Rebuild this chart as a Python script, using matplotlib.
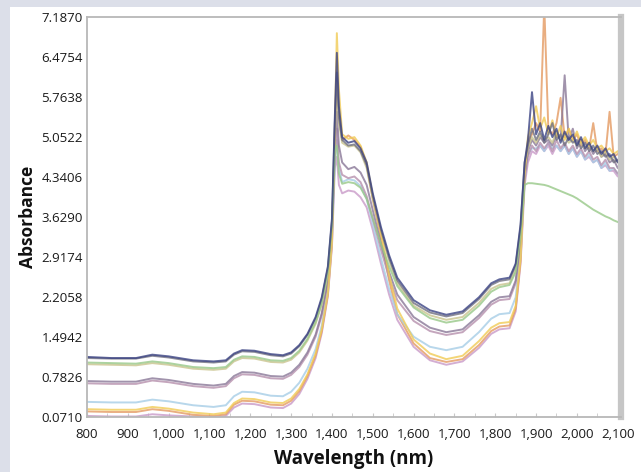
import numpy as np, matplotlib
matplotlib.use('Agg')
import matplotlib.pyplot as plt
from matplotlib.patches import Rectangle

plt.rcParams.update({'font.family': 'Open Sans', 'font.size': 9.5})

# wavelength grid of the smooth part (nm)
wl_body = [800, 860, 920, 960, 1000, 1060, 1110, 1140, 1160, 1180, 1210, 1250, 1280,
           1300, 1320, 1340, 1360, 1375, 1390, 1400, 1407,
           1412, 1417, 1425, 1440, 1455, 1470,
           1485, 1500, 1520, 1540, 1560, 1600, 1640, 1680, 1720, 1760, 1790, 1810, 1835, 1850, 1862, 1872]
# wavelength grid of the noisy tail (nm)
wl_tail = [1880, 1890, 1900, 1910, 1920, 1930, 1940, 1950, 1960, 1970, 1980, 1990,
           2000, 2010, 2020, 2030, 2040, 2050, 2060, 2070, 2080, 2090, 2100, 2108]

navy_body = [1.14, 1.12, 1.12, 1.18, 1.15, 1.08, 1.06, 1.08, 1.20, 1.26, 1.25, 1.19, 1.17,
             1.22, 1.35, 1.55, 1.85, 2.20, 2.75, 3.60, 5.40,
             6.55, 5.60, 5.05, 4.95, 4.98, 4.85,
             4.60, 4.05, 3.45, 2.95, 2.55, 2.15, 1.97, 1.89, 1.95, 2.20, 2.45, 2.52, 2.55, 2.80, 3.50, 4.60]
gray_body = [1.12, 1.11, 1.11, 1.16, 1.13, 1.06, 1.04, 1.06, 1.18, 1.24, 1.23, 1.17, 1.15,
             1.20, 1.33, 1.53, 1.82, 2.17, 2.72, 3.55, 5.30,
             6.20, 5.40, 5.00, 4.90, 4.92, 4.80,
             4.55, 4.00, 3.40, 2.90, 2.50, 2.10, 1.93, 1.86, 1.92, 2.17, 2.42, 2.49, 2.52, 2.77, 3.45, 4.60]
green_body = [1.04, 1.03, 1.02, 1.06, 1.03, 0.96, 0.94, 0.96, 1.09, 1.15, 1.14, 1.08, 1.07,
              1.12, 1.25, 1.46, 1.76, 2.10, 2.66, 3.50, 4.80,
              4.90, 4.40, 4.22, 4.25, 4.23, 4.15,
              3.95, 3.60, 3.15, 2.75, 2.40, 2.02, 1.83, 1.75, 1.80, 2.05, 2.30, 2.38, 2.42, 2.65, 3.30, 4.20]
khaki_body = [1.01, 1.00, 0.99, 1.03, 1.00, 0.93, 0.91, 0.93, 1.06, 1.12, 1.11, 1.05, 1.04,
              1.09, 1.22, 1.43, 1.73, 2.07, 2.63, 3.45, 5.00,
              6.00, 5.30, 4.95, 4.88, 4.90, 4.78,
              4.50, 3.95, 3.35, 2.85, 2.45, 2.05, 1.88, 1.80, 1.85, 2.10, 2.35, 2.42, 2.45, 2.70, 3.40, 4.50]
purple_body = [0.71, 0.70, 0.70, 0.76, 0.73, 0.66, 0.63, 0.66, 0.80, 0.87, 0.86, 0.80, 0.79,
               0.86, 1.00, 1.22, 1.54, 1.92, 2.50, 3.40, 4.90,
               5.50, 4.90, 4.60, 4.48, 4.52, 4.42,
               4.20, 3.75, 3.15, 2.65, 2.25, 1.85, 1.66, 1.58, 1.63, 1.88, 2.12, 2.20, 2.22, 2.50, 3.20, 4.40]
mauve_body = [0.67, 0.66, 0.66, 0.72, 0.69, 0.62, 0.59, 0.62, 0.76, 0.83, 0.82, 0.76, 0.75,
              0.82, 0.96, 1.18, 1.50, 1.88, 2.47, 3.35, 4.70,
              5.20, 4.60, 4.38, 4.32, 4.35, 4.25,
              4.00, 3.60, 3.05, 2.55, 2.15, 1.78, 1.60, 1.53, 1.58, 1.83, 2.07, 2.15, 2.17, 2.45, 3.15, 4.30]
blue_body = [0.34, 0.33, 0.33, 0.38, 0.35, 0.28, 0.25, 0.28, 0.44, 0.52, 0.51, 0.45, 0.44,
             0.52, 0.68, 0.93, 1.28, 1.70, 2.33, 3.25, 4.60,
             5.00, 4.50, 4.25, 4.30, 4.28, 4.18,
             3.95, 3.50, 2.90, 2.35, 1.90, 1.50, 1.32, 1.26, 1.32, 1.58, 1.82, 1.90, 1.92, 2.20, 3.00, 4.30]
yellow_body = [0.21, 0.20, 0.20, 0.25, 0.22, 0.15, 0.12, 0.15, 0.32, 0.40, 0.39, 0.33, 0.32,
               0.40, 0.57, 0.83, 1.20, 1.63, 2.28, 3.20, 5.20,
               6.90, 5.90, 5.10, 5.02, 5.05, 4.90,
               4.60, 4.00, 3.35, 2.60, 2.00, 1.45, 1.20, 1.10, 1.16, 1.42, 1.66, 1.74, 1.76, 2.05, 2.90, 4.40]
orange_body = [0.17, 0.16, 0.16, 0.21, 0.18, 0.11, 0.09, 0.12, 0.29, 0.36, 0.35, 0.29, 0.28,
               0.36, 0.53, 0.80, 1.17, 1.60, 2.25, 3.15, 5.00,
               6.10, 5.50, 5.00, 5.08, 5.00, 4.88,
               4.55, 3.95, 3.25, 2.50, 1.90, 1.38, 1.12, 1.05, 1.10, 1.35, 1.60, 1.68, 1.70, 2.00, 2.85, 4.40]
pink_body = [0.09, 0.08, 0.08, 0.12, 0.10, 0.08, 0.07, 0.09, 0.24, 0.31, 0.30, 0.24, 0.23,
             0.31, 0.48, 0.75, 1.12, 1.56, 2.22, 3.10, 4.50,
             4.70, 4.20, 4.05, 4.10, 4.08, 3.98,
             3.80, 3.40, 2.80, 2.25, 1.80, 1.32, 1.08, 1.00, 1.06, 1.30, 1.55, 1.63, 1.65, 1.95, 2.80, 4.20]

navy_tail = [5.00, 5.85, 5.10, 5.30, 5.00, 5.25, 5.05, 5.20, 4.95, 5.15, 5.00, 5.10,
             4.90, 5.05, 4.85, 4.95, 4.80, 4.90, 4.75, 4.85, 4.70, 4.75, 4.60, 4.65]
gray_tail = [4.90, 5.20, 5.00, 5.15, 4.95, 5.10, 5.30, 5.00, 5.10, 4.90, 5.05, 4.95,
             5.00, 4.85, 4.95, 4.80, 4.90, 4.75, 4.80, 4.70, 4.75, 4.60, 4.65, 4.55]
green_tail = [4.23, 4.23, 4.22, 4.21, 4.20, 4.18, 4.15, 4.12, 4.09, 4.06, 4.03, 4.00,
              3.96, 3.91, 3.86, 3.81, 3.76, 3.72, 3.68, 3.64, 3.61, 3.57, 3.54, 3.52]
khaki_tail = [4.85, 5.05, 4.95, 5.10, 5.00, 5.05, 4.95, 5.15, 5.00, 5.10, 4.95, 5.00,
              4.90, 4.95, 4.85, 4.90, 4.80, 4.85, 4.70, 4.80, 4.65, 4.70, 4.60, 4.60]
purple_tail = [4.80, 5.00, 4.90, 5.05, 4.95, 5.00, 4.90, 5.10, 5.00, 6.15, 5.00, 5.20,
               4.85, 5.00, 4.80, 4.90, 4.75, 4.85, 4.70, 4.75, 4.60, 4.65, 4.50, 4.55]
mauve_tail = [4.70, 4.90, 4.80, 4.95, 4.85, 4.95, 4.80, 5.00, 4.85, 4.95, 4.80, 4.90,
              4.75, 4.85, 4.70, 4.80, 4.65, 4.70, 4.55, 4.65, 4.50, 4.50, 4.40, 4.40]
blue_tail = [4.75, 4.85, 4.85, 4.90, 4.80, 4.95, 4.85, 4.90, 4.80, 4.90, 4.75, 4.85,
             4.70, 4.80, 4.65, 4.75, 4.60, 4.65, 4.50, 4.60, 4.45, 4.50, 4.40, 4.35]
yellow_tail = [5.05, 5.30, 5.60, 5.20, 5.40, 5.10, 5.35, 5.05, 5.25, 5.00, 5.20, 5.00,
               5.15, 4.95, 5.05, 4.90, 5.00, 4.85, 4.90, 4.80, 4.85, 4.75, 4.80, 4.70]
orange_tail = [4.95, 5.10, 5.30, 5.15, 7.40, 5.20, 5.10, 5.30, 5.75, 5.05, 5.20, 5.00,
               5.10, 4.90, 5.00, 4.85, 5.30, 4.80, 4.85, 4.75, 5.50, 4.70, 4.75, 4.70]
pink_tail = [4.60, 4.80, 4.75, 4.90, 4.80, 4.90, 4.75, 4.90, 4.80, 4.90, 4.75, 4.85,
             4.70, 4.80, 4.65, 4.70, 4.60, 4.65, 4.50, 4.55, 4.45, 4.45, 4.35, 4.35]

series = [  # drawn bottom-up
    (pink_body, pink_tail, '#c99ac8'),
    (orange_body, orange_tail, '#e49a62'),
    (blue_body, blue_tail, '#a6cde6'),
    (mauve_body, mauve_tail, '#b690ad'),
    (purple_body, purple_tail, '#8a7898'),
    (khaki_body, khaki_tail, '#c9c48e'),
    (yellow_body, yellow_tail, '#f1cb55'),
    (gray_body, gray_tail, '#707080'),
    (green_body, green_tail, '#98c888'),
    (navy_body, navy_tail, '#3b4383'),
]

y_ticks = [0.0710, 0.7826, 1.4942, 2.2058, 2.9174, 3.6290, 4.3406, 5.0522, 5.7638, 6.4754, 7.1870]
x_ticks = [800, 900, 1000, 1100, 1200, 1300, 1400, 1500, 1600, 1700, 1800, 1900, 2000, 2100]

fig = plt.figure(figsize=(6.41, 4.72), dpi=100, facecolor='#dcdfe9')
fig.patches.append(Rectangle((10/641, 0), 1, 1 - 7/472, transform=fig.transFigure,
                             facecolor='white', edgecolor='none', zorder=-5))
ax = fig.add_axes([87/641, 55/472, 534/641, 400/472])
ax.set_zorder(2)

for body, tail, c in series:
    ax.plot(wl_body + wl_tail, body + tail, color=c, lw=1.4, alpha=0.8, solid_joinstyle='round')

ax.set_xlim(800, 2108)
ax.set_ylim(0.071, 7.187)
ax.set_yticks(y_ticks)
ax.set_yticklabels([f'{v:.4f}' for v in y_ticks])
ax.set_xticks(x_ticks)
ax.set_xticklabels([f'{v:,}' for v in x_ticks])
ax.set_xticks(np.arange(850, 2101, 100), minor=True)
ax.tick_params(axis='both', direction='in', length=3, color='#c8c8c8', labelcolor='#1a1a1a')
ax.tick_params(axis='x', which='major', pad=8)
ax.tick_params(axis='x', which='minor', direction='in', length=3, color='#c8c8c8')
ax.tick_params(axis='y', length=0, pad=3)

for s in ['left', 'top', 'bottom']:
    ax.spines[s].set_color('#b8b8b8'); ax.spines[s].set_linewidth(1.3)
ax.spines['right'].set_color('#c6c6c6'); ax.spines['right'].set_linewidth(4.5)

ax.set_xlabel('Wavelength (nm)', fontsize=13.5, fontweight='bold', color='#111111', labelpad=6)
ax.set_ylabel('Absorbance', fontsize=12.5, fontweight='bold', color='#111111', labelpad=3)

fig.savefig('out.png', dpi=100)
